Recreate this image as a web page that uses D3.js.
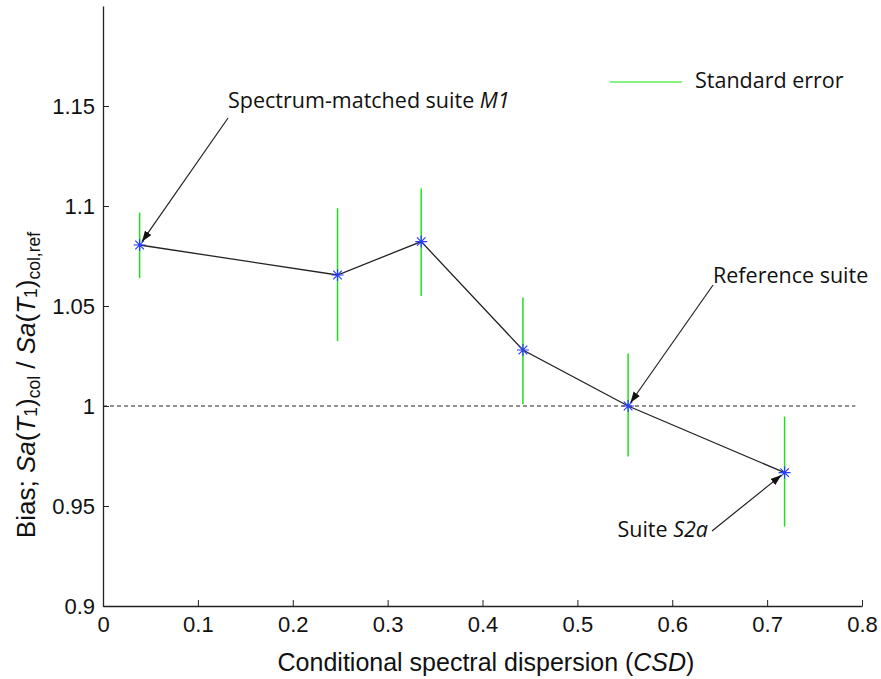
<!DOCTYPE html>
<html>
<head>
<meta charset="utf-8">
<script src="https://cdn.jsdelivr.net/npm/d3@7"></script>
<style>
  body { margin: 0; background: #fff; }
  svg text { fill: #111; }
</style>
</head>
<body>
<div id="chart"></div>
<script>
// data
var csd      = [0.0386, 0.2472, 0.3354, 0.4426, 0.5535, 0.7184];
var bias     = [1.0805, 1.0655, 1.0822, 1.0280, 1.0000, 0.9667];
var errLow   = [1.0639, 1.0325, 1.0550, 1.0009, 0.9747, 0.9397];
var errHigh  = [1.0967, 1.0989, 1.1087, 1.0542, 1.0262, 0.9947];
var xTicks   = [0, 0.1, 0.2, 0.3, 0.4, 0.5, 0.6, 0.7, 0.8];
var yTicks   = [0.9, 0.95, 1, 1.05, 1.1, 1.15];
var refLevel = 1;
var noteText = ["Spectrum-matched suite ", "Reference suite", "Suite "];
var noteItal = ["M1", "", "S2a"];
var notePt   = [0, 4, 5];

// where the annotation texts / arrow tails sit (data units)
var noteLayout = [
  {tx: 0.1318, ty: 1.149,  anchor: "start", ax: 0.1318, ay: 1.144},
  {tx: 0.6430, ty: 1.0615, anchor: "start", ax: 0.6430, ay: 1.0605},
  {tx: 0.6377, ty: 0.9345, anchor: "end",   ax: 0.6419, ay: 0.9375}
];

var W = 881, H = 679;
var margin = {left: 103, right: 19, top: 6, bottom: 73};

var svg = d3.select("#chart").append("svg")
    .attr("width", W)
    .attr("height", H);

svg.append("defs").append("marker")
    .attr("id", "arrow")
    .attr("viewBox", "0 0 10 10")
    .attr("refX", 10).attr("refY", 5)
    .attr("markerWidth", 11).attr("markerHeight", 11)
    .attr("markerUnits", "userSpaceOnUse")
    .attr("orient", "auto")
  .append("path")
    .attr("d", "M0,1.5 L10,5 L0,8.5 Z")
    .attr("fill", "#111");

var x = d3.scaleLinear().domain([0, 0.8]).range([margin.left, W - margin.right]);
var y = d3.scaleLinear().domain([0.9, 1.2]).range([H - margin.bottom, margin.top]);

var axisFont = "'Liberation Sans', Arial, sans-serif";

// axes
var xAxis = svg.append("g")
    .attr("transform", "translate(0," + y(0.9) + ")")
    .call(d3.axisBottom(x).tickValues(xTicks).tickSizeInner(-6).tickSizeOuter(0)
          .tickFormat(function(d){ return d === 0 ? "0" : d3.format(".1f")(d); }));
xAxis.select(".domain").attr("stroke", "#222").attr("stroke-width", 1.3);
xAxis.selectAll(".tick line").attr("stroke", "#222");
xAxis.selectAll("text")
    .attr("y", 10)
    .style("font-family", axisFont)
    .style("font-size", "22px");

var yAxis = svg.append("g")
    .attr("transform", "translate(" + x(0) + ",0)")
    .call(d3.axisLeft(y).tickValues(yTicks).tickSizeInner(-6).tickSizeOuter(0)
          .tickFormat(function(d){ return String(d); }));
yAxis.select(".domain").attr("stroke", "#222").attr("stroke-width", 1.3);
yAxis.selectAll(".tick line").attr("stroke", "#222");
yAxis.selectAll("text")
    .attr("x", -8)
    .style("font-family", axisFont)
    .style("font-size", "22px");

// x title
var xt = svg.append("text")
    .attr("x", (277 + 695) / 2).attr("y", 671)
    .attr("text-anchor", "middle")
    .style("font-family", axisFont)
    .style("font-size", "25px");
xt.append("tspan").text("Conditional spectral dispersion (");
xt.append("tspan").style("font-style", "italic").text("CSD");
xt.append("tspan").text(")");

// y title
var sub = "17.5px";
var yt = svg.append("text")
    .attr("transform", "translate(35,385) rotate(-90)")
    .attr("text-anchor", "middle")
    .style("font-family", axisFont)
    .style("font-size", "26px");
yt.append("tspan").text("Bias; ");
yt.append("tspan").style("font-style", "italic").text("Sa");
yt.append("tspan").text("(");
yt.append("tspan").style("font-style", "italic").text("T");
yt.append("tspan").style("font-size", sub).attr("dy", 2).text("1");
yt.append("tspan").attr("dy", -2).text(")");
yt.append("tspan").style("font-size", sub).attr("dy", 5).text("col");
yt.append("tspan").attr("dy", -5).text(" / ");
yt.append("tspan").style("font-style", "italic").text("Sa");
yt.append("tspan").text("(");
yt.append("tspan").style("font-style", "italic").text("T");
yt.append("tspan").style("font-size", sub).attr("dy", 2).text("1");
yt.append("tspan").attr("dy", -2).text(")");
yt.append("tspan").style("font-size", sub).attr("dy", 5).text("col,ref");

// reference dashed line
svg.append("line")
    .attr("x1", x(0)).attr("x2", x(0.793))
    .attr("y1", y(refLevel)).attr("y2", y(refLevel))
    .attr("stroke", "#222").attr("stroke-width", 1)
    .attr("stroke-dasharray", "4,3");

var pts = csd.map(function(c, i){ return {x: c, y: bias[i], lo: errLow[i], hi: errHigh[i]}; });

// error bars
svg.selectAll(".err").data(pts).enter().append("line")
    .attr("class", "err")
    .attr("x1", function(d){ return x(d.x); }).attr("x2", function(d){ return x(d.x); })
    .attr("y1", function(d){ return y(d.lo); }).attr("y2", function(d){ return y(d.hi); })
    .attr("stroke", "#1ee01e").attr("stroke-width", 1.5);

// connecting line
svg.append("path")
    .datum(pts)
    .attr("d", d3.line().x(function(d){ return x(d.x); }).y(function(d){ return y(d.y); }))
    .attr("fill", "none").attr("stroke", "#222").attr("stroke-width", 1.3);

// asterisk markers
svg.selectAll(".star").data(pts).enter().append("path")
    .attr("class", "star")
    .attr("transform", function(d){ return "translate(" + x(d.x) + "," + y(d.y) + ")"; })
    .attr("d", "M-6,0H6M0,-6V6M-4.3,-4.3L4.3,4.3M-4.3,4.3L4.3,-4.3")
    .attr("stroke", "#2a3cff").attr("stroke-width", 1.2).attr("fill", "none");

// annotations
var annoFont = "'Open Sans', 'Noto Sans', sans-serif";
noteLayout.forEach(function(n, i){
  var p = pts[notePt[i]];
  var dx = x(p.x) - x(n.ax), dy = y(p.y) - y(n.ay);
  var len = Math.sqrt(dx * dx + dy * dy);
  svg.append("line")
      .attr("x1", x(n.ax)).attr("y1", y(n.ay))
      .attr("x2", x(p.x) - dx / len * 4).attr("y2", y(p.y) - dy / len * 4)
      .attr("stroke", "#222").attr("stroke-width", 1.2)
      .attr("marker-end", "url(#arrow)");
  var t = svg.append("text")
      .attr("x", x(n.tx)).attr("y", y(n.ty))
      .attr("text-anchor", n.anchor)
      .style("font-family", annoFont)
      .style("font-size", "21.5px");
  t.append("tspan").text(noteText[i]);
  if (noteItal[i]) t.append("tspan").style("font-style", "italic").text(noteItal[i]);
});

// legend
svg.append("line")
    .attr("x1", 610).attr("x2", 682).attr("y1", 82).attr("y2", 82)
    .attr("stroke", "#5cf05c").attr("stroke-width", 1.5);
svg.append("text")
    .attr("x", 695).attr("y", 88)
    .style("font-family", annoFont)
    .style("font-size", "21.5px")
    .text("Standard error");
</script>
</body>
</html>
